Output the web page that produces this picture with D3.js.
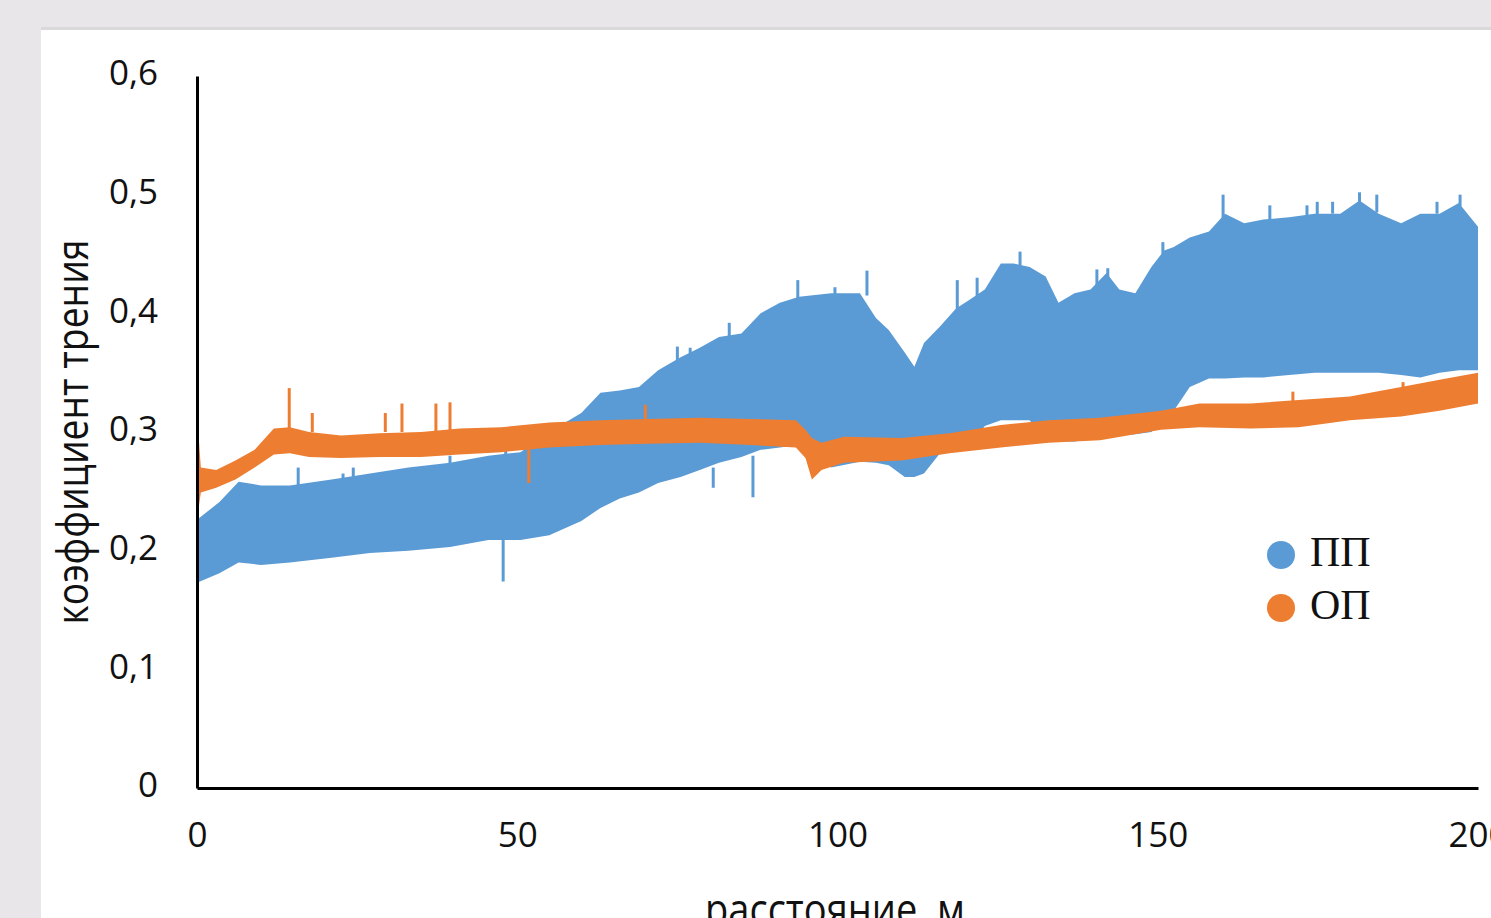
<!DOCTYPE html>
<html>
<head>
<meta charset="utf-8">
<script src="https://cdn.jsdelivr.net/npm/d3@7"></script>
<style>
  html, body { margin: 0; padding: 0; background: #e9e6ea; overflow: hidden; }
  svg { display: block; }
</style>
</head>
<body>
<svg></svg>
<script>
// ПП: upper / lower envelope of the noisy friction trace
const ppDist = [0, 3.5, 6.5, 10, 14.5, 21, 27, 33, 39.5, 45.5, 50.5, 55, 60, 63, 66, 69, 72, 75.5, 78.5, 81.5,
  85, 88, 91, 94, 99, 103.5, 106, 108, 110.5, 112, 113.5, 116, 118.5, 120.5, 123, 125.5, 127.5, 130, 132.5, 134.5,
  137, 139.5, 142, 144, 146.5, 149, 151, 152.5, 155, 158, 160.5, 163.5, 166.5, 170.5, 174.5, 178.5, 181.5, 184.5,
  188, 191, 194, 197, 200];
const ppHigh = [0.226, 0.241, 0.258, 0.255, 0.255, 0.26, 0.265, 0.27, 0.274, 0.28, 0.283, 0.30, 0.316, 0.333, 0.335,
  0.338, 0.352, 0.363, 0.371, 0.38, 0.383, 0.40, 0.409, 0.414, 0.417, 0.417, 0.396, 0.386, 0.367, 0.355, 0.375,
  0.389, 0.404, 0.411, 0.42, 0.442, 0.442, 0.439, 0.431, 0.409, 0.417, 0.42, 0.434, 0.42, 0.417, 0.439, 0.453,
  0.456, 0.464, 0.469, 0.484, 0.476, 0.479, 0.481, 0.484, 0.484, 0.495, 0.484, 0.476, 0.484, 0.484, 0.493, 0.473];
const ppLow = [0.173, 0.181, 0.19, 0.188, 0.19, 0.194, 0.198, 0.2, 0.203, 0.209, 0.209, 0.213, 0.225, 0.236, 0.244,
  0.249, 0.257, 0.262, 0.268, 0.274, 0.279, 0.285, 0.287, 0.289, 0.27, 0.275, 0.274, 0.272, 0.262, 0.262, 0.265,
  0.282, 0.285, 0.288, 0.305, 0.31, 0.31, 0.31, 0.293, 0.292, 0.292, 0.294, 0.296, 0.297, 0.298, 0.3, 0.31,
  0.318, 0.338, 0.345, 0.345, 0.346, 0.346, 0.348, 0.35, 0.35, 0.35, 0.35, 0.348, 0.346, 0.35, 0.352, 0.352];

// ОП
const opDist = [0, 0.6, 3, 6, 9, 12, 14.5, 17.5, 22.5, 28.5, 35, 41, 47.5, 55, 63, 70.5, 78.5, 86.5, 93.5, 95,
  96, 97.5, 101, 110, 117.5, 125.5, 133, 141, 150.5, 156.5, 164.5, 172, 180, 188, 194, 200];
const opHigh = [0.316, 0.27, 0.268, 0.276, 0.285, 0.303, 0.304, 0.30, 0.297, 0.299, 0.30, 0.303, 0.304, 0.308,
  0.31, 0.311, 0.312, 0.311, 0.31, 0.302, 0.295, 0.291, 0.296, 0.295, 0.299, 0.306, 0.31, 0.312, 0.318, 0.324,
  0.324, 0.327, 0.33, 0.338, 0.344, 0.35];
const opLow = [0.226, 0.249, 0.253, 0.26, 0.27, 0.281, 0.282, 0.279, 0.278, 0.279, 0.279, 0.281, 0.283, 0.287,
  0.289, 0.29, 0.291, 0.289, 0.287, 0.278, 0.26, 0.268, 0.274, 0.276, 0.282, 0.287, 0.291, 0.293, 0.302, 0.304,
  0.303, 0.304, 0.31, 0.313, 0.318, 0.324];

// single spikes sticking out of the bands: [distance, from, to]
const ppSpikes = [[15.8, 0.25, 0.27], [22.8, 0.255, 0.265], [24.4, 0.258, 0.27], [39.5, 0.27, 0.28],
  [47.8, 0.21, 0.174], [48.2, 0.278, 0.286], [75, 0.36, 0.372], [77, 0.365, 0.371], [80.6, 0.27, 0.253],
  [83.1, 0.38, 0.392], [86.8, 0.28, 0.245], [93.8, 0.41, 0.428], [99.6, 0.415, 0.422], [104.6, 0.415, 0.436],
  [118.7, 0.40, 0.428], [121.8, 0.41, 0.43], [128.5, 0.44, 0.452], [140.5, 0.42, 0.437], [142.2, 0.43, 0.438],
  [150.8, 0.445, 0.46], [160.2, 0.48, 0.5], [167.5, 0.478, 0.491], [173.3, 0.481, 0.491], [174.9, 0.483, 0.494],
  [177.3, 0.484, 0.494], [181.5, 0.49, 0.502], [184.2, 0.485, 0.5], [193.6, 0.484, 0.494], [197.2, 0.49, 0.5]];
const opSpikes = [[14.4, 0.30, 0.337], [18, 0.30, 0.316], [29.4, 0.30, 0.316], [32, 0.30, 0.324],
  [37.3, 0.30, 0.324], [39.5, 0.30, 0.325], [70, 0.31, 0.323], [51.8, 0.29, 0.257], [171.1, 0.325, 0.334],
  [188.3, 0.336, 0.342]];

const xTicks = [0, 50, 100, 150, 200];
const yTicks = [0, 0.1, 0.2, 0.3, 0.4, 0.5, 0.6];
const seriesNames = ["ПП", "ОП"];
const seriesColors = ["#5b9bd5", "#ed7d31"];

const W = 1491, H = 918;
const svg = d3.select("svg").attr("width", W).attr("height", H);

// white sheet
svg.append("rect").attr("x", 41).attr("y", 27).attr("width", W).attr("height", 3).attr("fill", "#d9d9d9");
svg.append("rect").attr("x", 41).attr("y", 30).attr("width", W).attr("height", H).attr("fill", "#fff");

const x = d3.scaleLinear().domain([0, 200]).range([197, 1478]);
const y = d3.scaleLinear().domain([0, 0.6]).range([788, 76]);

const ru = d3.formatLocale({ decimal: ",", thousands: " ", grouping: [3], currency: ["", ""] });
const fmtY = v => (v === 0 ? "0" : ru.format(".1f")(v));

const band = (dist, hi, lo) => d3.area()
  .x((d, i) => x(dist[i]))
  .y0((d, i) => y(lo[i]))
  .y1((d, i) => y(hi[i]))(dist);

const g = svg.append("g");
g.append("path").attr("d", band(ppDist, ppHigh, ppLow)).attr("fill", seriesColors[0]);
g.selectAll(".pps").data(ppSpikes).enter().append("line")
  .attr("x1", d => x(d[0])).attr("x2", d => x(d[0]))
  .attr("y1", d => y(d[1])).attr("y2", d => y(d[2]))
  .attr("stroke", seriesColors[0]).attr("stroke-width", 3);

g.append("path").attr("d", band(opDist, opHigh, opLow)).attr("fill", seriesColors[1]);
g.selectAll(".ops").data(opSpikes).enter().append("line")
  .attr("x1", d => x(d[0])).attr("x2", d => x(d[0]))
  .attr("y1", d => y(d[1])).attr("y2", d => y(d[2]))
  .attr("stroke", seriesColors[1]).attr("stroke-width", 3);

// axes
const font = "'Open Sans', sans-serif";
const yAxis = svg.append("g").attr("transform", "translate(197,0)")
  .call(d3.axisLeft(y).tickValues(yTicks).tickFormat(fmtY).tickSize(0).tickSizeOuter(0).tickPadding(39));
const xAxis = svg.append("g").attr("transform", "translate(0,788)")
  .call(d3.axisBottom(x).tickValues(xTicks).tickSize(0).tickSizeOuter(0).tickPadding(34));

[yAxis, xAxis].forEach(a => {
  a.select(".domain").attr("stroke", "#000").attr("stroke-width", 3);
  a.selectAll("text").attr("font-family", font).attr("font-size", 35).attr("fill", "#111");
});
yAxis.selectAll("text").attr("dy", "0.25em");
xAxis.selectAll("text").attr("dy", "0.71em");

svg.append("text")
  .attr("transform", "translate(88,432) rotate(-90)")
  .attr("text-anchor", "middle")
  .attr("font-family", font).attr("font-size", 44).attr("fill", "#111")
  .attr("textLength", 385).attr("lengthAdjust", "spacingAndGlyphs")
  .text("коэффициент трения");

svg.append("text")
  .attr("x", 835).attr("y", 925)
  .attr("text-anchor", "middle")
  .attr("font-family", font).attr("font-size", 44).attr("fill", "#111")
  .attr("textLength", 260).attr("lengthAdjust", "spacingAndGlyphs")
  .text("расстояние, м");

// legend
const legend = svg.append("g").selectAll("g").data(seriesNames).enter().append("g")
  .attr("transform", (d, i) => `translate(1281,${555 + i * 53})`);
legend.append("circle").attr("r", 14).attr("fill", (d, i) => seriesColors[i]);
legend.append("text")
  .attr("x", 29).attr("y", 11)
  .attr("font-family", "'Liberation Serif', serif").attr("font-size", 42).attr("fill", "#111")
  .text(d => d);
</script>
</body>
</html>
